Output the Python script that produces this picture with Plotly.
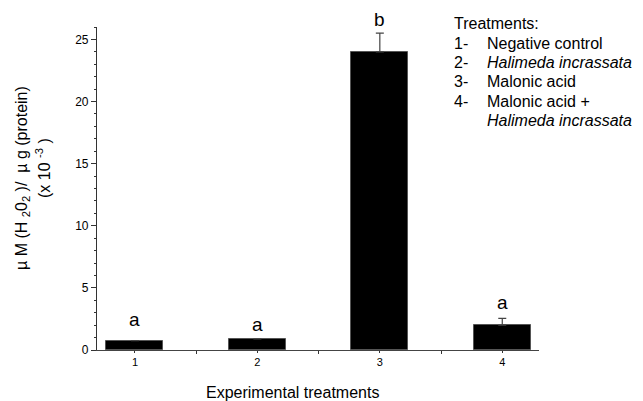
import plotly.graph_objects as go

categories = [1, 2, 3, 4]
values = [0.75, 0.9, 24.0, 2.0]
errors_up = [0.0, 0.0, 1.5, 0.55]
letters = ["a", "a", "b", "a"]
tick_labels = ["1", "2", "3", "4"]
legend_lines = [
    ("1-", "Negative control"),
    ("2-", "<i>Halimeda incrassata</i>"),
    ("3-", "Malonic acid"),
    ("4-", "Malonic acid +"),
    ("", "<i>Halimeda incrassata</i>"),
]

FONT = "Liberation Sans, Arial, sans-serif"

# page body has an 8px margin; size the figure so it fills the 643x401 window
OFF = 8
W, H = 643 - OFF, 401 - OFF
L, R, T, B = 97 - OFF, 104, 27 - OFF, 51
PW, PH = W - L - R, H - T - B


def xp(px):
    return (px - OFF - L) / PW


def yp(py):
    return (H - B - (py - OFF)) / PH


fig = go.Figure()
fig.add_trace(go.Bar(
    x=categories, y=values, width=0.465,
    marker=dict(color="black", line=dict(color="#555", width=1)),
    error_y=dict(type="data", symmetric=False, array=errors_up,
                 arrayminus=[0] * 4, color="#444", thickness=1.2, width=4),
    showlegend=False,
))

letter_shift = [21, 14, 14, 16]  # pixel gap above bar/error cap (style)
for c, v, e, t, s in zip(categories, values, errors_up, letters, letter_shift):
    fig.add_annotation(x=c, y=v + e, text=t, showarrow=False, yshift=s,
                       yanchor="middle", font=dict(size=19, color="black", family=FONT))

fig.add_annotation(x=xp(452), y=yp(23), xref="paper", yref="paper", text="Treatments:",
                   showarrow=False, xanchor="left", yanchor="middle",
                   font=dict(size=16, color="black", family=FONT))
for i, (n, txt) in enumerate(legend_lines):
    ypx = 43 + i * 19.4
    if n:
        fig.add_annotation(x=xp(452), y=yp(ypx), xref="paper", yref="paper", text=n,
                           showarrow=False, xanchor="left", yanchor="middle",
                           font=dict(size=16, color="black", family=FONT))
    fig.add_annotation(x=xp(485), y=yp(ypx), xref="paper", yref="paper", text=txt,
                       showarrow=False, xanchor="left", yanchor="middle",
                       font=dict(size=16, color="black", family=FONT))

fig.add_annotation(x=xp(22), y=yp(178), xref="paper", yref="paper",
                   text="µ M (H <sub>2</sub>0<sub>2</sub> )/  µ g (protein)",
                   textangle=-90, showarrow=False, xanchor="center", yanchor="middle",
                   font=dict(size=16, color="black", family=FONT))
fig.add_annotation(x=xp(43), y=yp(168), xref="paper", yref="paper",
                   text="(x 10 <sup>-3</sup> )",
                   textangle=-90, showarrow=False, xanchor="center", yanchor="middle",
                   font=dict(size=16, color="black", family=FONT))
fig.add_annotation(x=xp(292), y=yp(392), xref="paper", yref="paper",
                   text="Experimental treatments", showarrow=False,
                   xanchor="center", yanchor="middle",
                   font=dict(size=16, color="black", family=FONT))

fig.update_layout(
    width=W, height=H, margin=dict(l=L, r=R, t=T, b=B),
    paper_bgcolor="white", plot_bgcolor="white",
    font=dict(family=FONT, color="black"),
    bargap=0,
    xaxis=dict(range=[0.69, 4.3], tickmode="array", tickvals=categories,
               ticktext=tick_labels, ticks="outside", ticklen=2, tickcolor="#333",
               showline=True, linecolor="#444", linewidth=1.2, showgrid=False,
               zeroline=False, tickfont=dict(size=11, color="black"),
               minor=dict(tickmode="array", tickvals=[1.5, 2.5, 3.5], ticks="outside",
                          ticklen=3, tickcolor="#333")),
    yaxis=dict(range=[0, 26], tickvals=[0, 5, 10, 15, 20, 25], ticks="outside",
               ticklen=5, tickcolor="#333", showline=True, linecolor="#333",
               linewidth=1.2, showgrid=False, zeroline=False,
               tickfont=dict(size=12, color="black"),
               minor=dict(dtick=1, ticks="outside", ticklen=2, tickcolor="#333")),
)

fig.write_html("out.html")
